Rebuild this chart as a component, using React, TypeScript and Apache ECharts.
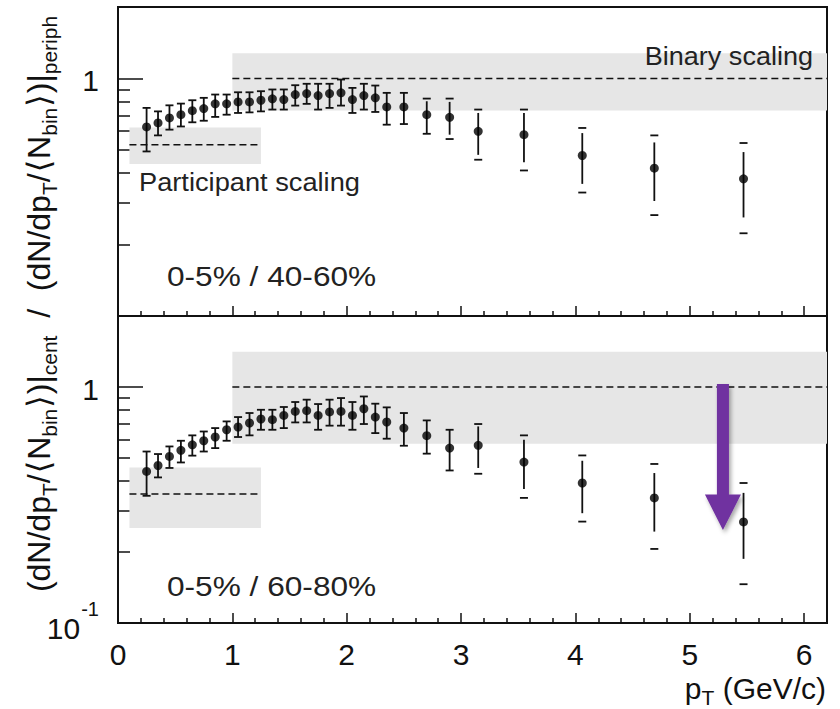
import React, { useEffect, useRef } from 'react';
import * as echarts from 'echarts';

const FONT = "'Liberation Sans', Arial, Helvetica, sans-serif";

// transverse momentum bin centres (GeV/c)
const pT = [0.25, 0.35, 0.45, 0.55, 0.65, 0.75, 0.85, 0.95, 1.05, 1.15, 1.25, 1.35, 1.45, 1.55, 1.65, 1.75, 1.85, 1.95, 2.05, 2.15, 2.25, 2.35, 2.5, 2.7, 2.9, 3.15, 3.55, 4.06, 4.69, 5.47];

// 0-5% / 40-60%
const ratioTop = [0.625, 0.650, 0.682, 0.704, 0.732, 0.747, 0.782, 0.782, 0.797, 0.797, 0.810, 0.821, 0.815, 0.856, 0.864, 0.847, 0.864, 0.870, 0.815, 0.847, 0.829, 0.759, 0.759, 0.704, 0.686, 0.599, 0.580, 0.474, 0.419, 0.378];
const statLoTop = [0.493, 0.576, 0.609, 0.628, 0.654, 0.664, 0.689, 0.704, 0.716, 0.720, 0.727, 0.740, 0.740, 0.769, 0.782, 0.740, 0.752, 0.769, 0.716, 0.740, 0.723, 0.639, 0.643, 0.589, 0.580, 0.477, 0.444, 0.360, 0.305, 0.260];
const statHiTop = [0.752, 0.727, 0.771, 0.784, 0.810, 0.829, 0.856, 0.856, 0.875, 0.875, 0.884, 0.899, 0.899, 0.937, 0.950, 0.950, 0.950, 0.990, 0.913, 0.950, 0.934, 0.870, 0.870, 0.802, 0.797, 0.716, 0.716, 0.589, 0.538, 0.490];
const sysLoTop = [0.493, 0.576, 0.609, 0.628, 0.654, 0.664, 0.689, 0.704, 0.716, 0.720, 0.727, 0.740, 0.740, 0.769, 0.782, 0.740, 0.752, 0.769, 0.716, 0.740, 0.723, 0.639, 0.643, 0.585, 0.556, 0.455, 0.410, 0.331, 0.266, 0.223];
const sysHiTop = [0.752, 0.727, 0.771, 0.784, 0.810, 0.829, 0.856, 0.856, 0.875, 0.875, 0.884, 0.899, 0.899, 0.937, 0.950, 0.950, 0.950, 0.990, 0.913, 0.950, 0.934, 0.870, 0.870, 0.823, 0.823, 0.740, 0.740, 0.619, 0.576, 0.535];

// 0-5% / 60-80%
const ratioBottom = [0.439, 0.465, 0.508, 0.539, 0.569, 0.592, 0.614, 0.659, 0.677, 0.704, 0.732, 0.727, 0.758, 0.788, 0.794, 0.758, 0.784, 0.788, 0.758, 0.809, 0.746, 0.711, 0.670, 0.622, 0.551, 0.566, 0.481, 0.392, 0.339, 0.268];
const statLoBottom = [0.346, 0.414, 0.454, 0.479, 0.512, 0.533, 0.551, 0.592, 0.614, 0.624, 0.659, 0.659, 0.670, 0.708, 0.708, 0.659, 0.686, 0.686, 0.659, 0.697, 0.638, 0.604, 0.564, 0.522, 0.443, 0.454, 0.370, 0.292, 0.244, 0.187];
const statHiBottom = [0.533, 0.520, 0.560, 0.592, 0.624, 0.648, 0.670, 0.715, 0.746, 0.776, 0.801, 0.801, 0.823, 0.864, 0.884, 0.847, 0.884, 0.898, 0.864, 0.912, 0.850, 0.820, 0.776, 0.722, 0.659, 0.681, 0.598, 0.487, 0.432, 0.356];
const sysLoBottom = [0.346, 0.414, 0.454, 0.479, 0.512, 0.533, 0.551, 0.592, 0.614, 0.624, 0.659, 0.659, 0.670, 0.708, 0.708, 0.659, 0.686, 0.686, 0.659, 0.697, 0.638, 0.604, 0.564, 0.522, 0.443, 0.429, 0.339, 0.269, 0.206, 0.146];
const sysHiBottom = [0.533, 0.520, 0.560, 0.592, 0.624, 0.648, 0.670, 0.715, 0.746, 0.776, 0.801, 0.801, 0.823, 0.864, 0.884, 0.847, 0.884, 0.898, 0.864, 0.912, 0.850, 0.820, 0.776, 0.722, 0.659, 0.697, 0.624, 0.513, 0.472, 0.392];

// scaling bands: [xFrom, xTo, low, reference, high]
const participantBandTop = [0.1, 1.25, 0.437, 0.526, 0.622];
const binaryBandTop = [1.0, 6.2, 0.734, 1.0, 1.276];
const participantBandBottom = [0.1, 1.25, 0.253, 0.352, 0.456];
const binaryBandBottom = [1.0, 6.2, 0.575, 1.0, 1.41];

// axes
const xMin = 0;
const xMax = 6.2;
const xMajorTicks = [0, 1, 2, 3, 4, 5, 6];
const xMinorTicks = [0.2, 0.4, 0.6, 0.8, 1.2, 1.4, 1.6, 1.8, 2.2, 2.4, 2.6, 2.8, 3.2, 3.4, 3.6, 3.8, 4.2, 4.4, 4.6, 4.8, 5.2, 5.4, 5.6, 5.8];
const yMin = 0.1;
const yMax = 2;
const yLabelsTop = [1];
const yLabelsBottom = [0.1, 1];
const yMinorTicks = [0.2, 0.3, 0.4, 0.5, 0.6, 0.7, 0.8, 0.9];

// annotation arrow (bottom panel): [x, tail value, head-base value, tip value]
const arrowAnnotation = [5.29, 1.03, 0.35, 0.248];

const INK = '#111';

function renderBand(params: any, api: any) {
  const x0 = api.value(0), x1 = api.value(1), lo = api.value(2), ref = api.value(3), hi = api.value(4);
  const a = api.coord([x0, hi]);
  const b = api.coord([x1, lo]);
  const r0 = api.coord([x0, ref]);
  const r1 = api.coord([x1, ref]);
  return {
    type: 'group',
    children: [
      { type: 'rect', shape: { x: a[0], y: a[1], width: b[0] - a[0], height: b[1] - a[1] }, style: { fill: '#e6e6e6' } },
      { type: 'line', shape: { x1: r0[0], y1: r0[1], x2: r1[0], y2: r1[1] }, style: { stroke: INK, lineWidth: 1.6, lineDash: [7, 4], fill: null } },
    ],
  };
}

function renderErr(params: any, api: any) {
  const x = api.value(0);
  const s0 = api.coord([x, api.value(1)]);
  const s1 = api.coord([x, api.value(2)]);
  const c0 = api.coord([x, api.value(3)]);
  const c1 = api.coord([x, api.value(4)]);
  const hw = 4;
  const st = { stroke: INK, lineWidth: 1.8 };
  return {
    type: 'group',
    children: [
      { type: 'line', shape: { x1: s0[0], y1: s0[1], x2: s1[0], y2: s1[1] }, style: st },
      { type: 'line', shape: { x1: c0[0] - hw, y1: c0[1], x2: c0[0] + hw, y2: c0[1] }, style: st },
      { type: 'line', shape: { x1: c1[0] - hw, y1: c1[1], x2: c1[0] + hw, y2: c1[1] }, style: st },
    ],
  };
}

function xAxes(gridIndex: number, showLabels: boolean) {
  return [
    {
      type: 'value', gridIndex, min: xMin, max: xMax, position: 'bottom',
      axisLine: { show: true, lineStyle: { color: INK, width: 2 } },
      axisTick: { show: true, inside: true, length: 10, customValues: xMajorTicks, lineStyle: { color: INK, width: 1.5 } },
      axisLabel: { show: showLabels, customValues: xMajorTicks, fontSize: 30, color: INK, margin: 16, fontFamily: FONT },
      splitLine: { show: false },
    },
    {
      type: 'value', gridIndex, min: xMin, max: xMax, position: 'bottom',
      axisLine: { show: false },
      axisTick: { show: true, inside: true, length: 5, customValues: xMinorTicks, lineStyle: { color: INK, width: 1.5 } },
      axisLabel: { show: false },
      splitLine: { show: false },
    },
  ];
}

function yAxes(gridIndex: number, labels: number[]) {
  return [
    {
      type: 'log', logBase: 10, gridIndex, min: yMin, max: yMax, position: 'left',
      axisLine: { show: true, lineStyle: { color: INK, width: 2 } },
      axisTick: { show: true, inside: true, length: 25, customValues: labels, lineStyle: { color: INK, width: 1.5 } },
      axisLabel: {
        show: true, customValues: labels, fontSize: 30, color: INK, margin: 19, fontFamily: FONT,
        formatter: (v: number) => (v > 0.5 ? '{o|1}' : '{n|10}{e|-1}'),
        rich: {
          o: { fontSize: 30, fontFamily: FONT, color: INK, padding: [5, 0, 0, 0] },
          n: { fontSize: 30, fontFamily: FONT, color: INK, padding: [10, 0, 0, 0] },
          e: { fontSize: 20, fontFamily: FONT, color: INK, padding: [0, 0, 28, 1] },
        },
      },
      splitLine: { show: false },
    },
    {
      type: 'log', logBase: 10, gridIndex, min: yMin, max: yMax, position: 'left',
      axisLine: { show: false },
      axisTick: { show: true, inside: true, length: 12, customValues: yMinorTicks, lineStyle: { color: INK, width: 1.5 } },
      axisLabel: { show: false },
      splitLine: { show: false },
    },
  ];
}

function pointSeries(xIdx: number, yIdx: number, ratio: number[], sLo: number[], sHi: number[], yLo: number[], yHi: number[], bands: number[][]) {
  return [
    {
      type: 'custom', xAxisIndex: xIdx, yAxisIndex: yIdx, z: 1, silent: true,
      renderItem: renderBand, encode: { x: [0, 1], y: [2, 3, 4] },
      data: bands,
    },
    {
      type: 'custom', xAxisIndex: xIdx, yAxisIndex: yIdx, z: 4, silent: true,
      renderItem: renderErr, encode: { x: 0, y: [1, 2, 3, 4] },
      data: pT.map((x, i) => [x, sLo[i], sHi[i], yLo[i], yHi[i]]),
    },
    {
      type: 'scatter', xAxisIndex: xIdx, yAxisIndex: yIdx, z: 5, silent: true,
      symbol: 'circle', symbolSize: 9, itemStyle: { color: '#000' },
      data: pT.map((x, i) => [x, ratio[i]]),
    },
  ];
}

const sub = (s: number) => ({ fontSize: s, fontFamily: FONT, fill: INK, verticalAlign: 'bottom' });

const yTitleText =
  '{m|(dN/dp}{s|T}{m|/}{b|⟨}{m|N}{s|bin}{b|⟩}{m|)|}{s|cent}{m|  /  }' +
  '{m|(dN/dp}{s|T}{m|/}{b|⟨}{m|N}{s|bin}{b|⟩}{m|)|}{s|periph}';

const option: any = {
  animation: false,
  textStyle: { fontFamily: FONT },
  grid: [
    { left: 118, top: 7, width: 709, height: 309, show: true, borderColor: INK, borderWidth: 2, backgroundColor: 'transparent', containLabel: false, outerBoundsMode: 'none' },
    { left: 118, top: 316, width: 709, height: 307, show: true, borderColor: INK, borderWidth: 2, backgroundColor: 'transparent', containLabel: false, outerBoundsMode: 'none' },
  ],
  xAxis: [...xAxes(0, false), ...xAxes(1, true)],
  yAxis: [...yAxes(0, yLabelsTop), ...yAxes(1, yLabelsBottom)],
  series: [
    ...pointSeries(0, 0, ratioTop, statLoTop, statHiTop, sysLoTop, sysHiTop, [participantBandTop, binaryBandTop]),
    ...pointSeries(2, 2, ratioBottom, statLoBottom, statHiBottom, sysLoBottom, sysHiBottom, [participantBandBottom, binaryBandBottom]),
  ],
  graphic: [
    {
      id: 'ytitle', type: 'text', x: 39, y: 304, rotation: Math.PI / 2, z: 50,
      style: {
        text: yTitleText, align: 'center', verticalAlign: 'middle', fill: INK,
        fontSize: 32, fontFamily: FONT,
        rich: {
          m: { fontSize: 32, fontFamily: FONT, fill: INK, lineHeight: 42 },
          b: { fontSize: 32, fontFamily: "'DejaVu Sans', " + FONT, fill: INK, lineHeight: 42, padding: [0, 1, 0, 1] },
          s: { ...sub(21), lineHeight: 21 },
        },
      },
    },
    {
      id: 'xname', type: 'text', x: 826, y: 688, z: 50,
      style: {
        text: '{m|p}{s|T}{m| (GeV/c)}', align: 'right', verticalAlign: 'middle', fill: INK,
        fontSize: 30, fontFamily: FONT,
        rich: {
          m: { fontSize: 30, fontFamily: FONT, fill: INK, lineHeight: 40 },
          s: { ...sub(21), lineHeight: 21 },
        },
      },
    },
    {
      id: 'binary', type: 'text', x: 813, y: 56, scaleX: 1.04, z: 50,
      style: { text: 'Binary scaling', align: 'right', verticalAlign: 'middle', fontSize: 26, fontFamily: FONT, fill: '#222' },
    },
    {
      id: 'participant', type: 'text', x: 139, y: 182, scaleX: 1.09, z: 50,
      style: { text: 'Participant scaling', align: 'left', verticalAlign: 'middle', fontSize: 25, fontFamily: FONT, fill: '#222' },
    },
    {
      id: 'labTop', type: 'text', x: 167, y: 276, scaleX: 1.13, z: 50,
      style: { text: '0-5% / 40-60%', align: 'left', verticalAlign: 'middle', fontSize: 28, fontFamily: FONT, fill: '#222' },
    },
    {
      id: 'labBottom', type: 'text', x: 167, y: 586, scaleX: 1.13, z: 50,
      style: { text: '0-5% / 60-80%', align: 'left', verticalAlign: 'middle', fontSize: 28, fontFamily: FONT, fill: '#222' },
    },
  ],
};

export default function App() {
  const ref = useRef<HTMLDivElement>(null);
  useEffect(() => {
    if (!ref.current) return;
    const chart = echarts.init(ref.current, null, { renderer: 'svg' });
    chart.setOption(option);
    const [ax, aTail, aBase, aTip] = arrowAnnotation;
    const finder = { seriesIndex: 5 };
    const pTail = chart.convertToPixel(finder, [ax, aTail]) as number[];
    const pBase = chart.convertToPixel(finder, [ax, aBase]) as number[];
    const pTip = chart.convertToPixel(finder, [ax, aTip]) as number[];
    if (pTail && pBase && pTip) {
      const cx = pTail[0];
      const sw = 6;
      const hw = 18;
      chart.setOption({
        graphic: [
          {
            id: 'arrow', type: 'polygon', z: 60,
            shape: {
              points: [
                [cx - sw, pTail[1]], [cx + sw, pTail[1]], [cx + sw, pBase[1]], [cx + hw, pBase[1]],
                [cx, pTip[1]], [cx - hw, pBase[1]], [cx - sw, pBase[1]],
              ],
            },
            style: { fill: '#7030a0', shadowBlur: 4, shadowOffsetX: 2, shadowOffsetY: 3, shadowColor: 'rgba(0,0,0,0.35)' },
          },
        ],
      });
    }
    return () => chart.dispose();
  }, []);
  return <div ref={ref} style={{ position: 'absolute', left: 0, top: 0, width: 840, height: 709 }} />;
}
